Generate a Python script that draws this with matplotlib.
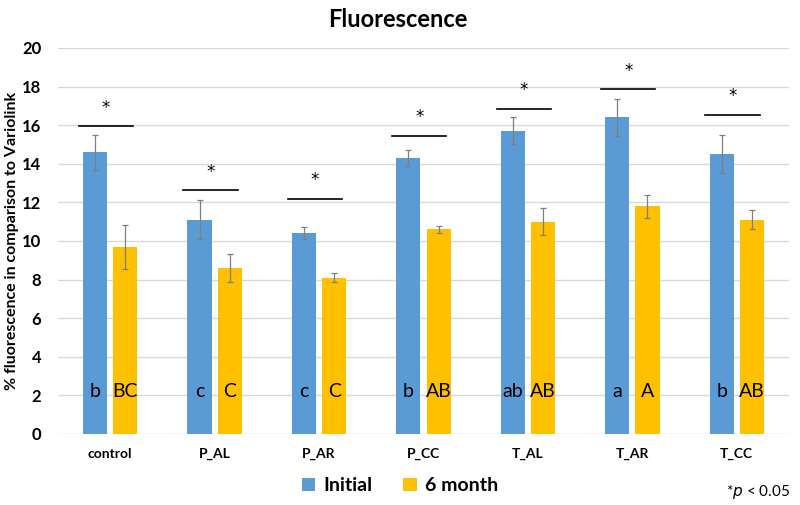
import matplotlib.pyplot as plt
import numpy as np

plt.rcParams['font.family'] = ['Lato', 'DejaVu Sans']

# Data
groups = ["control", "P_AL", "P_AR", "P_CC", "T_AL", "T_AR", "T_CC"]
initial = [14.6, 11.1, 10.4, 14.3, 15.7, 16.4, 14.5]
initial_err = [0.9, 1.0, 0.3, 0.4, 0.7, 0.95, 1.0]
month6 = [9.7, 8.6, 8.1, 10.6, 11.0, 11.8, 11.1]
month6_err = [1.15, 0.75, 0.25, 0.2, 0.7, 0.6, 0.5]
letters_initial = ["b", "c", "c", "b", "ab", "a", "b"]
letters_6m = ["BC", "C", "C", "AB", "AB", "A", "AB"]
sig_level = [15.95, 12.65, 12.2, 15.45, 16.85, 17.85, 16.55]

blue = "#5B9BD5"
gold = "#FFC000"

fig = plt.figure(figsize=(8, 5.05), dpi=100)
ax = fig.add_axes([0.0725, 0.1406, 0.91375, 0.7644])

x = np.arange(len(groups))
w = 0.23
off = 0.145

ax.bar(x - off, initial, w, color=blue, label="Initial", zorder=2)
ax.bar(x + off, month6, w, color=gold, label="6 month", zorder=2)
ax.errorbar(x - off, initial, yerr=initial_err, fmt="none", ecolor="#7f7f7f",
            elinewidth=0.9, capsize=2, capthick=0.9, zorder=3)
ax.errorbar(x + off, month6, yerr=month6_err, fmt="none", ecolor="#7f7f7f",
            elinewidth=0.9, capsize=2, capthick=0.9, zorder=3)

# significance bars and letters
for i in range(len(groups)):
    ax.plot([x[i] - 0.3, x[i] + 0.22], [sig_level[i], sig_level[i]],
            color="black", lw=1.2, zorder=3)
    ax.text(x[i] - 0.04, sig_level[i] + 0.95, "*", ha="center", va="center",
            fontsize=12, family="DejaVu Sans")
    ax.text(x[i] - off, 2.2, letters_initial[i], ha="center", va="center",
            fontsize=14)
    ax.text(x[i] + off, 2.2, letters_6m[i], ha="center", va="center",
            fontsize=14)

ax.set_xlim(-0.5, len(groups) - 0.5)
ax.set_ylim(0, 20)
ax.set_yticks(np.arange(0, 21, 2))
ax.set_xticks(x)
ax.set_xticklabels(groups, fontsize=10, fontweight="bold")
for lab in ax.get_yticklabels():
    lab.set_fontweight("bold")
    lab.set_fontsize(12)
ax.tick_params(length=0)
ax.tick_params(axis="x", pad=10)
ax.tick_params(axis="y", pad=12)
ax.grid(axis="y", color="#d9d9d9", lw=1, zorder=0)
ax.set_axisbelow(True)
for s in ax.spines.values():
    s.set_visible(False)

ax.set_ylabel("% fluorescence in comparison to Variolink", fontsize=11.5,
              fontweight="bold")
ax.yaxis.set_label_coords(-0.054, 0.5)
fig.text(0.497, 0.962, "Fluorescence", ha="center", va="center",
         fontsize=17, fontweight="bold")

fig.legend(loc="center", bbox_to_anchor=(0.5, 0.038), ncol=2, frameon=False,
           prop={"size": 14, "weight": "bold"}, handlelength=0.7,
           handleheight=0.7, handletextpad=0.4, columnspacing=1.6)
fig.text(0.988, 0.025, r"*$\it{p}$ < 0.05", ha="right", va="center",
         fontsize=11)

fig.savefig("out.png", dpi=100)
